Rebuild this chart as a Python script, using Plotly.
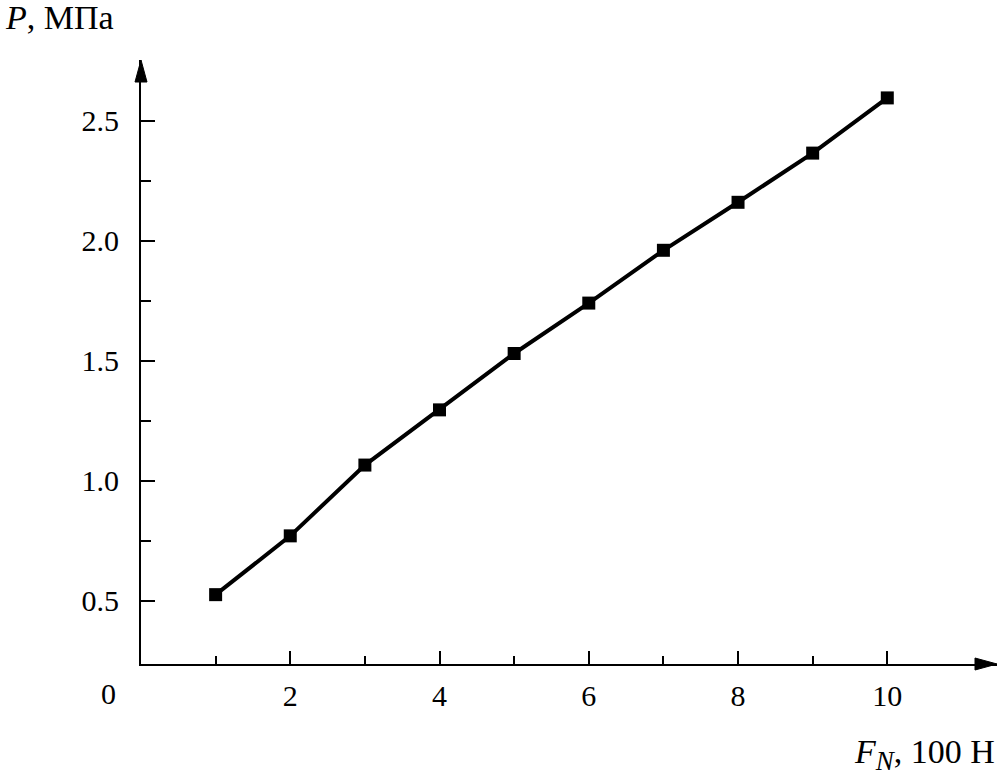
import plotly.graph_objects as go

force = [1, 2, 3, 4, 5, 6, 7, 8, 9, 10]
pressure = [0.525, 0.77, 1.065, 1.295, 1.53, 1.74, 1.96, 2.16, 2.365, 2.595]
x_ticks = [2, 4, 6, 8, 10]
x_tick_labels = ["2", "4", "6", "8", "10"]
y_ticks = [0.5, 1.0, 1.5, 2.0, 2.5]
y_tick_labels = ["0.5", "1.0", "1.5", "2.0", "2.5"]

FONT = "Liberation Serif"
FS = 30
TFS = 34

fig = go.Figure()
fig.add_trace(go.Scatter(
    x=force, y=pressure, mode="lines+markers",
    line=dict(color="black", width=4),
    marker=dict(symbol="square", size=13, color="black"),
    showlegend=False, cliponaxis=False,
))

fig.update_layout(
    width=997, height=780,
    margin=dict(l=141, r=0, t=60, b=116, autoexpand=False),
    paper_bgcolor="white", plot_bgcolor="white",
    font=dict(family=FONT, size=FS, color="black"),
    xaxis=dict(
        range=[0, 11.47], showgrid=False, zeroline=False, automargin=False,
        showline=True, linecolor="black", linewidth=2,
        tickmode="array", tickvals=x_ticks, ticktext=x_tick_labels,
        ticks="inside", ticklen=13, tickwidth=2, tickcolor="black",
        ticklabelstandoff=4,
        minor=dict(tickvals=[1, 3, 5, 7, 9], ticks="inside", ticklen=8,
                   tickwidth=2, tickcolor="black"),
        tickfont=dict(family=FONT, size=FS),
    ),
    yaxis=dict(
        range=[0.236, 2.753], showgrid=False, zeroline=False, automargin=False,
        showline=True, linecolor="black", linewidth=2,
        tickmode="array", tickvals=y_ticks, ticktext=y_tick_labels,
        ticks="inside", ticklen=14, tickwidth=2, tickcolor="black",
        ticklabelstandoff=14,
        minor=dict(tickvals=[0.75, 1.25, 1.75, 2.25], ticks="inside",
                   ticklen=10, tickwidth=2, tickcolor="black"),
        tickfont=dict(family=FONT, size=FS),
    ),
)

pw = 997 - 141
ph = 780 - 60 - 116
fig.add_shape(type="path", xref="paper", yref="paper",
              path=f"M 1 0 L {1 - 22 / pw} {6 / ph} L {1 - 22 / pw} {-6 / ph} Z",
              fillcolor="black", line=dict(color="black", width=1))
fig.add_shape(type="path", xref="paper", yref="paper",
              path=f"M 0 1 L {6 / pw} {1 - 22 / ph} L {-6 / pw} {1 - 22 / ph} Z",
              fillcolor="black", line=dict(color="black", width=1))

fig.add_annotation(text="0", xref="paper", yref="paper",
                   x=-33 / pw, y=-29 / ph, showarrow=False,
                   xanchor="center", yanchor="middle",
                   font=dict(family=FONT, size=FS))
fig.add_annotation(text="<i>P</i>, МПа", xref="paper", yref="paper",
                   x=-138 / pw, y=1 + 42 / ph, showarrow=False,
                   xanchor="left", yanchor="middle",
                   font=dict(family=FONT, size=TFS))
fig.add_annotation(text="<i>F</i><sub><i><span style='font-size:27px'>N</span></i></sub>, 100 Н",
                   xref="paper", yref="paper",
                   x=1, y=-90 / ph, showarrow=False,
                   xanchor="right", yanchor="middle",
                   font=dict(family=FONT, size=TFS))

fig.write_html("out.html", config={"displayModeBar": False},
               post_script="document.body.style.margin='0';document.body.style.overflow='hidden';")
